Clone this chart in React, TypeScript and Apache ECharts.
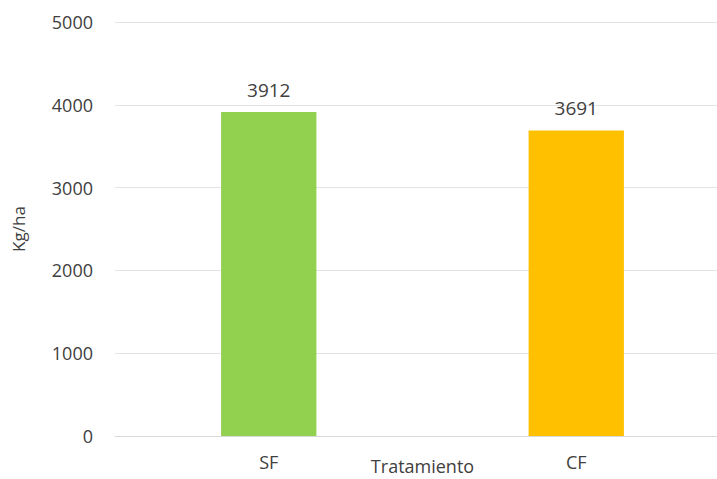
import React, { useEffect, useRef } from "react";
import * as echarts from "echarts";

const categories = ["SF", "CF"];
const values = [3912, 3691];
const barColors = ["#92d050", "#ffc000"];
const yTicks = { min: 0, max: 5000, interval: 1000 };
const xName = "Tratamiento";
const yName = "Kg/ha";

const FONT = "'Open Sans', sans-serif";
const TXT = "#404040";

export default function App() {
  const ref = useRef<HTMLDivElement>(null);
  useEffect(() => {
    if (!ref.current) return;
    const chart = echarts.init(ref.current, null, { renderer: "svg" });
    chart.setOption({
      animation: false,
      backgroundColor: "#ffffff",
      grid: {
        left: 115,
        top: 22,
        width: 615,
        height: 414,
        containLabel: false,
        outerBoundsMode: "none",
      },
      xAxis: {
        type: "category",
        data: categories,
        name: xName,
        nameLocation: "middle",
        nameGap: 21,
        nameMoveOverlap: false,
        nameTextStyle: {
          color: TXT,
          fontFamily: FONT,
          fontSize: 18,
          verticalAlign: "top",
          lineHeight: 18,
        },
        axisLine: { lineStyle: { color: "#d9d9d9" } },
        axisTick: { show: false },
        axisLabel: { color: TXT, fontFamily: FONT, fontSize: 18, margin: 17 },
      },
      yAxis: {
        type: "value",
        min: yTicks.min,
        max: yTicks.max,
        interval: yTicks.interval,
        name: yName,
        nameLocation: "middle",
        nameGap: 88,
        nameRotate: 90,
        nameMoveOverlap: false,
        nameTextStyle: { color: TXT, fontFamily: FONT, fontSize: 17 },
        axisLine: { show: false },
        axisTick: { show: false },
        axisLabel: {
          color: TXT,
          fontFamily: FONT,
          fontSize: 18,
          margin: 22,
          formatter: (v: number) => String(v),
        },
        splitLine: { lineStyle: { color: "#e3e3e3", width: 1 } },
      },
      series: [
        {
          type: "bar",
          data: values.map((v, i) => ({ value: v, itemStyle: { color: barColors[i] } })),
          barWidth: "31%",
          label: {
            show: true,
            position: "top",
            distance: 13,
            color: TXT,
            fontFamily: FONT,
            fontSize: 19,
          },
        },
      ],
    });
    return () => chart.dispose();
  }, []);
  return <div ref={ref} style={{ width: 717, height: 479, position: "fixed", left: 0, top: 0 }} />;
}
